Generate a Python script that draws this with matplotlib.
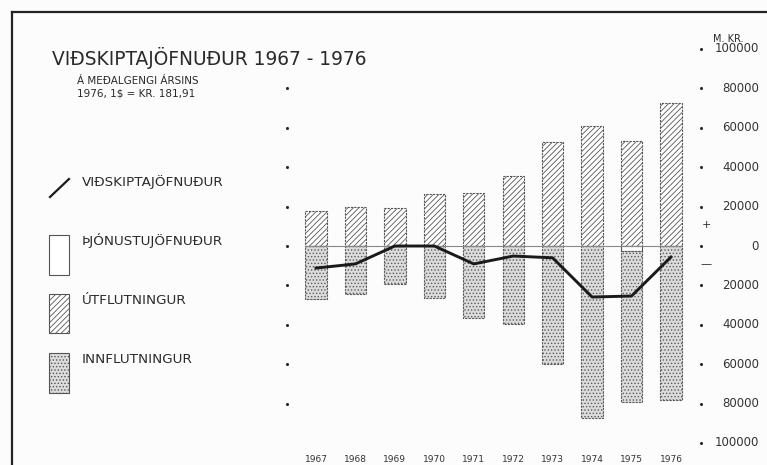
import matplotlib.pyplot as plt
from matplotlib.lines import Line2D
from matplotlib.patches import Rectangle

# Gögn (M. KR.) lesin af myndinni
years = [1967, 1968, 1969, 1970, 1971, 1972, 1973, 1974, 1975, 1976]
exports = [17800, 19800, 19300, 26400, 26900, 35300, 52800, 61000, 53300, 72600]
imports = [26900, 24400, 19300, 26400, 36500, 39600, 59900, 87300, 76700, 78200]
services = [0, 0, 0, 0, 0, 0, 0, 0, -2500, 0]
balance = [-11200, -9100, 0, 0, -9100, -5100, -6000, -25900, -25400, -5600]
ytick_vals = [100000, 80000, 60000, 40000, 20000, 0, -20000, -40000, -60000, -80000, -100000]
ytick_labels = ["100000", "80000", "60000", "40000", "20000", "0",
                "20000", "40000", "60000", "80000", "100000"]

title = "VIÐSKIPTAJÖFNUÐUR 1967 - 1976"
subtitle = "Á MEÐALGENGI ÁRSINS\n1976, 1$ = KR. 181,91"
legend_labels = ["VIÐSKIPTAJÖFNUÐUR", "ÞJÓNUSTUJÖFNUÐUR", "ÚTFLUTNINGUR", "INNFLUTNINGUR"]

W, H = 767, 465
ink = "#2a2a2a"
plt.rcParams["hatch.linewidth"] = 0.6

fig = plt.figure(figsize=(W / 100, H / 100), dpi=100)
fig.patch.set_facecolor("#fcfcfc")
ax = fig.add_axes([0, 0, 1, 1])
ax.set_axis_off()

# pixel -> gögn: 1967 í x=316, 39.44 px á ár; 0 í y=246, 39.4 px á 20000
step = 39.44
ax.set_xlim(1967 - 316 / step, 1967 + (W - 316) / step)
ax.set_ylim(-(H - 246) / 39.4 * 20000, 246 / 39.4 * 20000)

def px(x, y):
    return x / W, 1 - y / H

def xd(x):
    return 1967 + (x - 316) / step

bw = 0.54
# útflutningur
ax.bar(years, exports, width=bw, facecolor="white", edgecolor="#555555",
       hatch="//////", linewidth=0.8, linestyle=(0, (2, 1)), zorder=2)
# þjónustujöfnuður
ax.bar(years, services, width=bw, facecolor="white", edgecolor="#555555",
       linewidth=0.8, zorder=2)
# innflutningur
imp_bottom = [min(s, 0) for s in services]
ax.bar(years, [-v for v in imports], bottom=imp_bottom, width=bw,
       facecolor="#dcdcdc", edgecolor="#5a5a5a", hatch=".....",
       linewidth=0.8, linestyle=(0, (2, 1)), zorder=2)

ax.hlines(0, years[0] - 0.27, years[-1] + 0.27, color="#888888", lw=0.8, zorder=3)
ax.plot(years, balance, color="#1a1a1a", lw=2.1, solid_joinstyle="round", zorder=4)

# punktar vinstra og hægra megin
ax.scatter([xd(287)] * 9, ytick_vals[1:10], s=1.5, color=ink, zorder=3)
ax.scatter([xd(701)] * len(ytick_vals), ytick_vals, s=1.5, color=ink, zorder=3)
for v, t in zip(ytick_vals, ytick_labels):
    ax.text(xd(759), v, t, ha="right", va="center", fontsize=8.5, color="#333333")
ax.text(xd(706), 10500, "+", ha="center", va="center", fontsize=8, color=ink)
ax.text(xd(706), -9000, "—", ha="center", va="center", fontsize=8, color=ink)
fig.text(*px(728, 39), "M. KR.", ha="center", va="center", fontsize=7, color=ink)

for y in years:
    ax.text(y, -(459 - 246) / 39.4 * 20000, str(y), ha="center", va="center",
            fontsize=6.5, color="#333333")

# titill
fig.text(*px(52, 58), title, ha="left", va="center", fontsize=13.4, color=ink)
fig.text(*px(77, 87), subtitle, ha="left", va="center", fontsize=7.5,
         color=ink, linespacing=1.25)

# skýringar
fig.add_artist(Line2D([50 / W, 69 / W], [1 - 197 / H, 1 - 179 / H],
                      color="#1a1a1a", lw=1.6))
rects = [(235, 275, "white", None), (294, 333, "white", "//////"),
         (353, 393, "#dcdcdc", ".....")]
for (y0, y1, fc, hatch) in rects:
    fig.add_artist(Rectangle((49 / W, 1 - y1 / H), 20 / W, (y1 - y0) / H,
                             facecolor=fc, edgecolor="#555555", hatch=hatch,
                             linewidth=0.8, transform=fig.transFigure))
for lab, y in zip(legend_labels, [182, 240, 300, 359]):
    fig.text(*px(82, y), lab, ha="left", va="center", fontsize=9.7, color=ink)

# rammi
fig.add_artist(Line2D([12 / W, 1], [1 - 12 / H, 1 - 12 / H], color="#222222", lw=1.6))
fig.add_artist(Line2D([12 / W, 12 / W], [1 - 12 / H, 0], color="#222222", lw=1.6))

fig.savefig("out.png", dpi=100, facecolor=fig.get_facecolor())
